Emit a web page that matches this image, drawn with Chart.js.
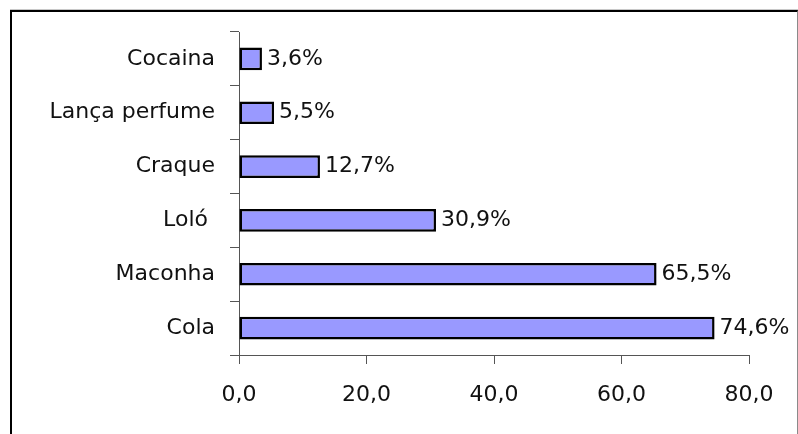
<!DOCTYPE html>
<html>
<head>
<meta charset="utf-8">
<script src="https://cdn.jsdelivr.net/npm/chart.js@4/dist/chart.umd.min.js"></script>
<style>
  html, body { margin: 0; padding: 0; background: #fff; }
  #wrap { position: relative; width: 798px; height: 434px; overflow: hidden; }
  #frame {
    position: absolute; left: 10px; top: 10px; width: 785px; height: 440px;
    border-top: 2px solid #000; border-left: 2px solid #000; border-right: 1px solid #8a8a8a;
    box-shadow: 0 -1px 0 #c8c8c8;
  }
  canvas { position: absolute; left: 0; top: 0; }
</style>
</head>
<body>
<div id="wrap">
  <div id="frame"></div>
  <canvas id="c" width="798" height="434"></canvas>
</div>
<script>
// Substances, top to bottom
const categories = ["Cocaina", "Lança perfume", "Craque", "Loló ", "Maconha", "Cola"];
// Percentage of respondents for each substance
const values = [3.6, 5.5, 12.7, 30.9, 65.5, 74.6];
// Value-axis tick labels (0 to 80, step 20)
const tickValues = [0, 20, 40, 60, 80];
const tickLabels = ["0,0", "20,0", "40,0", "60,0", "80,0"];

const FONT = { family: "'DejaVu Sans', Verdana, sans-serif", size: 22 };

// Writes "74,6%" style labels just past the end of each bar
const valueLabels = {
  id: 'valueLabels',
  afterDatasetsDraw(chart) {
    const ctx = chart.ctx;
    const meta = chart.getDatasetMeta(0);
    ctx.save();
    ctx.font = FONT.size + 'px ' + FONT.family;
    ctx.fillStyle = '#111';
    ctx.textAlign = 'left';
    ctx.textBaseline = 'middle';
    meta.data.forEach((bar, i) => {
      const txt = values[i].toFixed(1).replace('.', ',') + '%';
      ctx.fillText(txt, bar.x + 5, bar.y);
    });
    ctx.restore();
  }
};

new Chart(document.getElementById('c'), {
  type: 'bar',
  data: {
    labels: categories,
    datasets: [{
      data: values,
      backgroundColor: '#9999ff',
      borderColor: '#000',
      borderWidth: 2.5,
      borderSkipped: false,
      categoryPercentage: 1,
      barPercentage: 0.42
    }]
  },
  options: {
    indexAxis: 'y',
    responsive: false,
    animation: false,
    events: [],
    layout: { padding: { top: 32, right: 49, bottom: 0, left: 0 } },
    plugins: { legend: { display: false }, tooltip: { enabled: false } },
    scales: {
      x: {
        min: 0, max: 80,
        afterBuildTicks(scale) { scale.ticks = tickValues.map(v => ({ value: v })); },
        afterFit(scale) { scale.height = 79; },
        border: { display: true, color: '#555', width: 1 },
        grid: { drawOnChartArea: false, drawTicks: true, tickLength: 9, color: '#555' },
        ticks: {
          color: '#111', font: FONT, padding: 18,
          callback: (v, i) => tickLabels[i]
        }
      },
      y: {
        afterFit(scale) { scale.width = 239; },
        border: { display: true, color: '#555', width: 1 },
        grid: { offset: true, drawOnChartArea: false, drawTicks: true, tickLength: 9, color: '#555' },
        ticks: { color: '#111', font: FONT, padding: 15 }
      }
    }
  },
  plugins: [valueLabels]
});
</script>
</body>
</html>
